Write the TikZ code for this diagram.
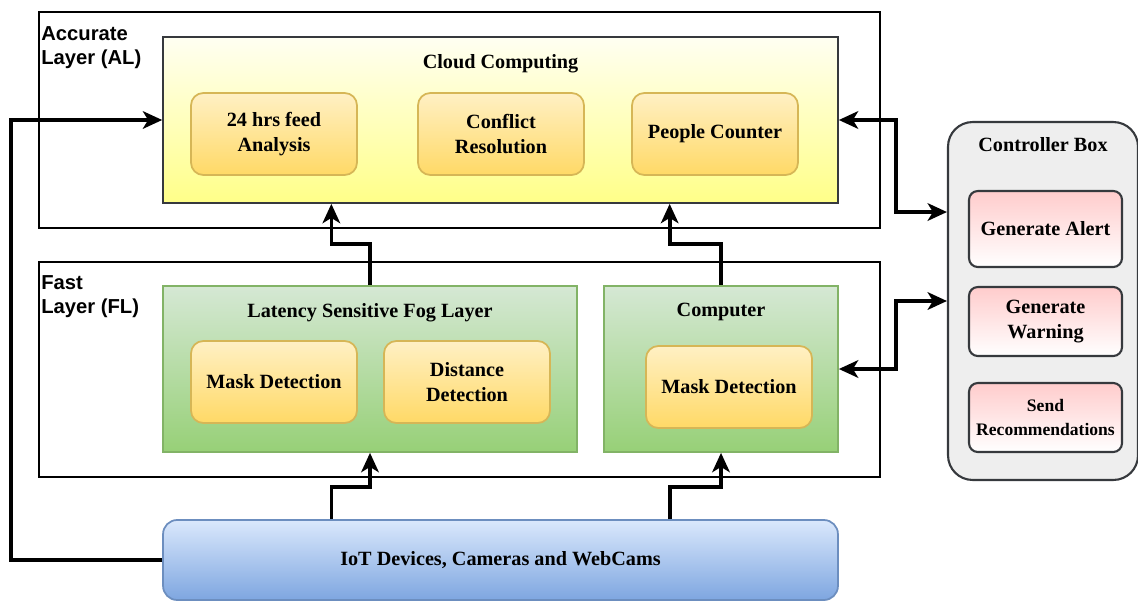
\documentclass[tikz,border=0pt]{standalone}
\usepackage{fontspec}
\setmainfont{Liberation Serif}
\newfontfamily\layerfont{Liberation Sans}
\usepackage{tikz}
\usepackage{xcolor}
\usetikzlibrary{positioning,calc,arrows.meta}
\definecolor{edgegray}{HTML}{36393D}
\definecolor{cloudtop}{HTML}{FFFFF2}
\definecolor{cloudbot}{HTML}{FFFF88}
\definecolor{fogtop}{HTML}{D5E8D4}
\definecolor{fogbot}{HTML}{97D077}
\definecolor{fogedge}{HTML}{82B366}
\definecolor{tasktop}{HTML}{FFF0C4}
\definecolor{taskbot}{HTML}{FFD966}
\definecolor{taskedge}{HTML}{D6B656}
\definecolor{iottop}{HTML}{DAE8FC}
\definecolor{iotbot}{HTML}{7EA6E0}
\definecolor{iotedge}{HTML}{6C8EBF}
\definecolor{alerttop}{HTML}{FFCCCC}
\definecolor{ctrlfill}{HTML}{EEEEEE}
\tikzset{
    layer-box/.style = {draw=black, line width=1.2pt, rectangle, inner sep=0pt},
    layer-title/.style = {font=\layerfont\bfseries\fontsize{11.5}{13.6}\selectfont, align=left, inner sep=0pt, anchor=north west},
    group-title/.style = {font=\bfseries\fontsize{11.5}{14}\selectfont, inner sep=0pt},
    cloud-box/.style = {draw=edgegray, line width=1pt, rectangle, top color=cloudtop, bottom color=cloudbot},
    fog-box/.style = {draw=fogedge, line width=1pt, rectangle, top color=fogtop, bottom color=fogbot},
    task-box/.style = {draw=taskedge, line width=1pt, rectangle, rounded corners=7pt, top color=tasktop, bottom color=taskbot, align=center, font=\bfseries\fontsize{11.5}{14}\selectfont, minimum width=3.32cm, minimum height=1.64cm},
    iot-box/.style = {draw=iotedge, line width=1pt, rectangle, rounded corners=8pt, top color=iottop, bottom color=iotbot, font=\bfseries\fontsize{11.5}{14}\selectfont},
    ctrl-box/.style = {draw=edgegray, line width=1.2pt, rectangle, rounded corners=14pt, fill=ctrlfill},
    action-box/.style = {draw=edgegray, line width=1.2pt, rectangle, rounded corners=5pt, top color=alerttop, bottom color=white, align=center, minimum width=3.06cm, font=\bfseries\fontsize{11.5}{14}\selectfont},
    link/.style = {draw=black, line width=2.1pt, -{Stealth[length=11pt,width=10pt,inset=3pt]}},
    dlink/.style = {link, {Stealth[length=11pt,width=10pt,inset=3pt]}-{Stealth[length=11pt,width=10pt,inset=3pt]}},
}

\begin{document}
\begin{tikzpicture}[x=0.02cm, y=-0.02cm]
\useasboundingbox (0,0) rectangle (1138,602);

% accurate layer
\node [layer-box, minimum width=16.82cm, minimum height=4.32cm] (al) at (459.5,120) {};
\node [layer-title] at (41,26) {Accurate\\Layer (AL)};
\node [cloud-box, minimum width=13.5cm, minimum height=3.32cm] (cloud) at (500.5,120) {};
\node [group-title, below=10pt] at (cloud.north) {Cloud Computing};
\node [task-box] (feed) at (274,134) {24 hrs feed\\Analysis};
\node [task-box] (conflict) at (501,134) {Conflict\\Resolution};
\node [task-box] (counter) at (715,134) {People Counter};

% fast layer
\node [layer-box, minimum width=16.82cm, minimum height=4.3cm] (fl) at (459.5,369.5) {};
\node [layer-title] at (41,275) {Fast\\Layer (FL)};
\node [fog-box, minimum width=8.28cm, minimum height=3.32cm] (fog) at (370,369) {};
\node [group-title, below=10pt] at (fog.north) {Latency Sensitive Fog Layer};
\node [task-box] (maskfog) at (274,382) {Mask Detection};
\node [task-box] (distance) at (467,382) {Distance\\Detection};
\node [fog-box, minimum width=4.68cm, minimum height=3.32cm] (comp) at (721,369) {};
\node [group-title, below=10pt] at (comp.north) {Computer};
\node [task-box] (maskcomp) at (729,387) {Mask Detection};

% devices
\node [iot-box, minimum width=13.5cm, minimum height=1.6cm] (iot) at (500.5,560) {IoT Devices, Cameras and WebCams};

% controller
\node [ctrl-box, minimum width=3.8cm, minimum height=7.16cm] (ctrl) at (1043,301) {};
\node [group-title, below=9pt] at (ctrl.north) {Controller Box};
\node [action-box, minimum height=1.52cm] (alert) at (1045.5,229) {Generate Alert};
\node [action-box, minimum height=1.38cm] (warning) at (1045.5,321.5) {Generate\\Warning};
\node [action-box, minimum height=1.38cm, font=\bfseries\fontsize{10}{14}\selectfont] (recommend) at (1045.5,417.5) {Send\\Recommendations};

% connectors
\draw [link] (iot.west) -- ++(-151,0) |- (cloud.west);
\draw [link] (fog.north) -- ++(0,-41) -| ($(cloud.south west)!.25!(cloud.south east)$);
\draw [link] (comp.north) -- ++(0,-41) -| ($(cloud.south west)!.75!(cloud.south east)$);
\draw [link] ($(iot.north west)!.25!(iot.north east)$) -- ++(0,-32) -| (fog.south);
\draw [link] ($(iot.north west)!.75!(iot.north east)$) -- ++(0,-32) -| (comp.south);
\draw [dlink] (cloud.east) -- ++(57,0) |- ([yshift=1.78cm]ctrl.west);
\draw [dlink] (comp.east) -- ++(57,0) |- (ctrl.west);
\end{tikzpicture}
\end{document}
